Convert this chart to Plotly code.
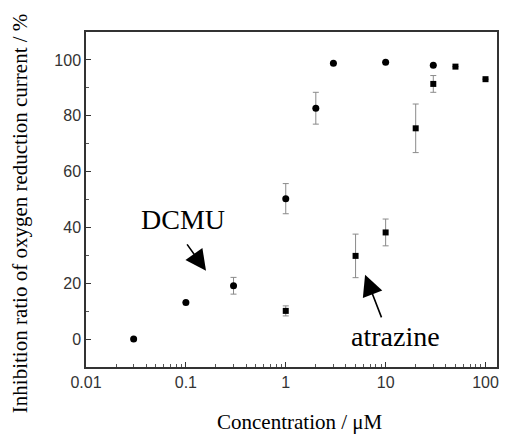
import plotly.graph_objects as go

# DCMU (circles)
dcmu_conc = [0.03, 0.1, 0.3, 1, 2, 3, 10, 30]
dcmu_inh = [0.0, 13.1, 19.1, 50.3, 82.7, 98.8, 99.2, 98.1]
dcmu_err = [0, 0, 3.0, 5.4, 5.7, 0, 0, 0]

# Atrazine (squares)
atr_conc = [1, 5, 10, 20, 30, 50, 100]
atr_inh = [10.1, 29.8, 38.2, 75.5, 91.4, 97.6, 93.1]
atr_err = [1.8, 7.8, 4.8, 8.7, 3.0, 0, 0]

x_ticks = [0.01, 0.1, 1, 10, 100]
x_ticklabels = ["0.01", "0.1", "1", "10", "100"]
y_ticks = [0, 20, 40, 60, 80, 100]
x_minor = [m * d for d in [0.01, 0.1, 1, 10] for m in range(2, 10)]

fig = go.Figure()
err_style = dict(type="data", visible=True, color="#8a8a8a", thickness=1, width=3)

fig.add_trace(go.Scatter(
    x=dcmu_conc, y=dcmu_inh, mode="markers", name="DCMU",
    marker=dict(symbol="circle", size=7, color="black"),
    error_y=dict(array=dcmu_err, **err_style),
))
fig.add_trace(go.Scatter(
    x=atr_conc, y=atr_inh, mode="markers", name="atrazine",
    marker=dict(symbol="square", size=6, color="black"),
    error_y=dict(array=atr_err, **err_style),
))

serif = "Liberation Serif, Times New Roman, serif"
sans = "Liberation Sans, Arial, sans-serif"

# the page body has an 8px margin, so the figure sits at (8, 8) and must fit in 493x428
fig.update_layout(
    width=493, height=428,
    margin=dict(l=78, r=2, t=24, b=69),
    paper_bgcolor="white", plot_bgcolor="white",
    showlegend=False,
    font=dict(family=sans, size=16, color="#333"),
    xaxis=dict(
        type="log", range=[-2, 2.115],
        tickvals=x_ticks, ticktext=x_ticklabels,
        ticks="inside", ticklen=5, tickcolor="#333", tickwidth=1,
        minor=dict(tickvals=x_minor, ticks="inside", ticklen=3, tickcolor="#555", showgrid=False),
        showline=True, linecolor="#333", linewidth=1.5, mirror=True,
        showgrid=False, zeroline=False,
        tickfont=dict(family=sans, size=16, color="#333"),
        ticklabeloverflow="allow",
    ),
    yaxis=dict(
        range=[-10, 110],
        tickvals=y_ticks,
        ticks="inside", ticklen=5, tickcolor="#333", tickwidth=1,
        minor=dict(dtick=10, ticks="inside", ticklen=3, tickcolor="#555", showgrid=False),
        showline=True, linecolor="#333", linewidth=1.5, mirror=True,
        showgrid=False, zeroline=False,
        tickfont=dict(family=sans, size=16, color="#333"),
    ),
    annotations=[
        dict(text="Inhibition ratio of oxygen reduction current / %",
             xref="paper", yref="paper", x=-0.16, y=0.457, xanchor="center", yanchor="middle",
             textangle=-90, showarrow=False, font=dict(family=serif, size=21, color="black")),
        dict(text="Concentration / μM",
             xref="paper", yref="paper", x=0.52, y=-0.205, xanchor="center", yanchor="bottom",
             showarrow=False, font=dict(family=serif, size=21, color="black")),
        dict(text="DCMU", xref="paper", yref="paper", x=0.237, y=0.44,
             xanchor="center", yanchor="middle", showarrow=False,
             font=dict(family=serif, size=28, color="black")),
        dict(text="", xref="paper", yref="paper", x=0.292, y=0.287,
             ax=-20, ay=-28, showarrow=True, arrowhead=2, arrowsize=2.6, arrowwidth=1.6,
             arrowcolor="black", standoff=0),
        dict(text="atrazine", xref="paper", yref="paper", x=0.752, y=0.09,
             xanchor="center", yanchor="middle", showarrow=False,
             font=dict(family=serif, size=28, color="black")),
        dict(text="", xref="paper", yref="paper", x=0.679, y=0.275,
             ax=17, ay=44, showarrow=True, arrowhead=2, arrowsize=2.6, arrowwidth=1.6,
             arrowcolor="black", standoff=0),
    ],
)

fig.write_html("out.html")
